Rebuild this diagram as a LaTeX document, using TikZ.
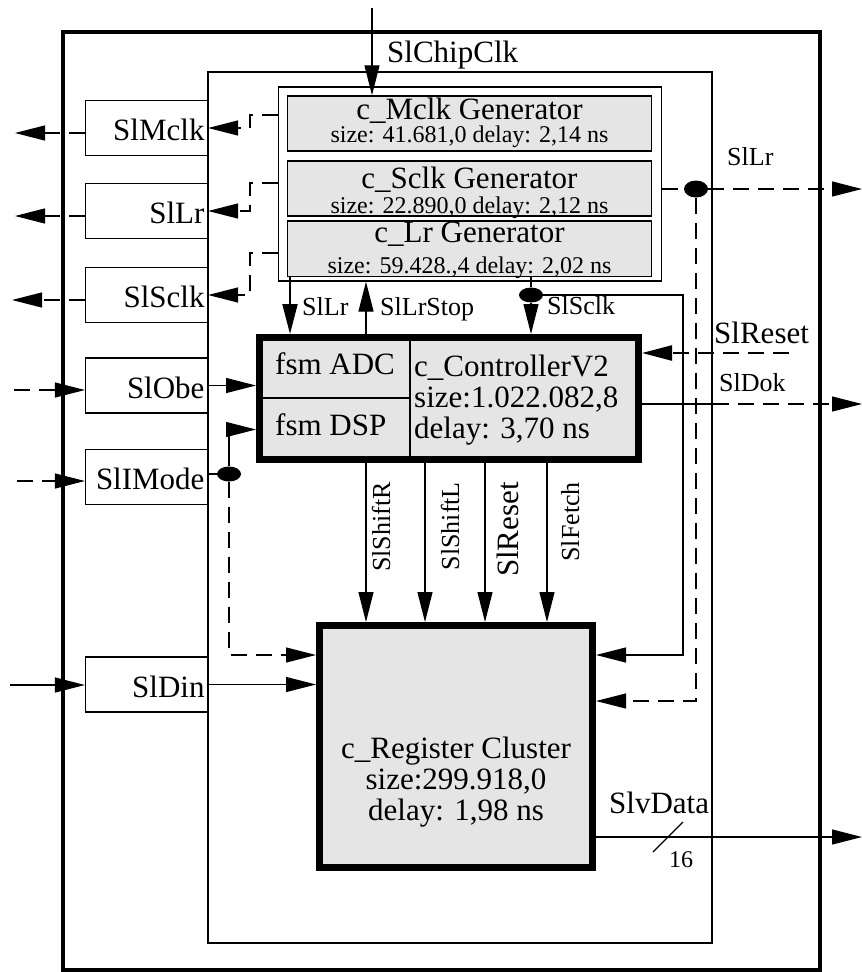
\documentclass[tikz,border=0pt]{standalone}
\usepackage{fontspec}
\setmainfont{Liberation Serif}
\usetikzlibrary{arrows.meta,shapes.geometric}

\newcommand{\fbig}{\fontsize{31}{31}\selectfont}
\newcommand{\fmid}{\fontsize{26}{28}\selectfont}
\newcommand{\fsml}{\fontsize{24}{26}\selectfont}

\begin{document}
\begin{tikzpicture}[
        x=1pt, y=-1pt,
        block/.style={draw, line width=1.2pt, inner sep=0pt},
        gen/.style={draw, fill=gray!20, line width=1.5pt, minimum width=364pt, minimum height=55pt, inner sep=0pt},
        port/.style={draw, line width=1.2pt, text width=116pt, inner xsep=3pt, minimum height=55pt, text height=25pt, text depth=0pt, align=right, font=\fbig},
        unit/.style={draw, fill=gray!20, line width=7pt, inner sep=0pt},
        joint/.style={ellipse, fill=black, inner sep=0pt, minimum width=24pt, minimum height=15pt},
        sig/.style={-{Triangle[length=30pt, width=15pt]}, line width=1.2pt},
        dsig/.style={sig, dash pattern=on 16pt off 9pt},
        wire/.style={line width=1.2pt},
        dwire/.style={wire, dash pattern=on 16pt off 9pt},
        tag/.style={font=\fmid, inner sep=0pt},
        bigtag/.style={font=\fbig, inner sep=0pt},
        smltag/.style={font=\fsml, inner sep=0pt}
    ]
        \useasboundingbox (0,0) rectangle (862,972);

        \node[block, line width=4pt, minimum width=757pt, minimum height=938pt] (chip) at (441,501) {};
        \node[block, minimum width=504pt, minimum height=871pt] (core) at (460,507.5) {};
        \node[block, minimum width=383pt, minimum height=194pt] (gens) at (470,184) {};

        \node[gen] (genM) at (469.5,123.5) {};
        \node[gen] (genS) at (469.5,188.5) {};
        \node[gen, minimum height=55.5pt] (genL) at (469.5,248.8) {};
        \node[bigtag, anchor=base] (genMname) at (469.5,119) {c\_Mclk Generator};
        \node[smltag, anchor=base] (genMsize) at (469.5,142) {size: 41.681,0 delay: 2,14 ns};
        \node[bigtag, anchor=base] (genSname) at (469.5,188) {c\_Sclk Generator};
        \node[smltag, anchor=base] (genSsize) at (469.5,213) {size: 22.890,0 delay: 2,12 ns};
        \node[bigtag, anchor=base] (genLname) at (469.5,242) {c\_Lr Generator};
        \node[smltag, anchor=base] (genLsize) at (469.5,273) {size: 59.428.,4 delay: 2,02 ns};

        \node[port] (pMclk) at (146.5,128) {SlMclk};
        \node[port] (pLr) at (146.5,211) {SlLr};
        \node[port] (pSclk) at (146.5,295) {SlSclk};
        \node[port] (pObe) at (146.5,385.5) {SlObe};
        \node[port] (pMode) at (146.5,477) {SlIMode};
        \node[port] (pDin) at (146.5,684.5) {SlDin};

        \node[unit, minimum width=379pt, minimum height=122pt] (ctrl) at (449,398.5) {};
        \coordinate (ctrlSplit) at (410,398);
        \draw[wire] (ctrlSplit |- ctrl.north) -- (ctrlSplit |- ctrl.south);
        \draw[wire] (ctrl.west |- ctrlSplit) -- (ctrlSplit);
        \node[bigtag, anchor=base west] (fsmAdc) at (275,374) {fsm ADC};
        \node[bigtag, anchor=base west] (fsmDsp) at (275,435) {fsm DSP};
        \node[bigtag, anchor=west, align=left] (ctrlTxt) at (414,400) {c\_ControllerV2\\size:1.022.082,8\\delay: 3,70 ns};

        \node[unit, minimum width=273pt, minimum height=242pt] (reg) at (456,746.5) {};
        \node[bigtag, align=center] (regTxt) at (456,782) {c\_Register Cluster\\size:299.918,0\\delay: 1,98 ns};

        \node[joint] (modeDot) at (229,474) {};
        \node[joint] (sclkDot) at (531,295) {};
        \node[joint, minimum height=17pt] (lrDot) at (696,189) {};

        \coordinate (clkIn) at (372,8);
        \coordinate (mclkTap) at (278,115);
        \coordinate (lrTap) at (278,183);
        \coordinate (sclkTap) at (278,253);
        \coordinate (jog) at (250,0);
        \coordinate (mclkOut) at (15,133);
        \coordinate (lrOut) at (15,216);
        \coordinate (sclkOut) at (12,300);
        \coordinate (obeIn) at (14,390);
        \coordinate (modeIn) at (17,481);
        \coordinate (dinIn) at (10,685);
        \coordinate (lrOutR) at (862,189);
        \coordinate (resetIn) at (789,353);
        \coordinate (dokOut) at (862,404);
        \coordinate (dataOut) at (862,837);
        \coordinate (sclkRail) at (683,500);
        \coordinate (busTick) at (668,837);

        % clock in
        \draw[sig] (clkIn) -- (clkIn |- genM.north);
        \node[bigtag, anchor=base west] (lChipClk) at (387,62) {SlChipClk};

        % generator outputs to the ports
        \draw[dsig] (mclkTap) -- (jog |- mclkTap) |- (pMclk.east);
        \draw[dsig] (lrTap) -- (jog |- lrTap) |- (pLr.east);
        \draw[dsig] (sclkTap) -- (jog |- sclkTap) |- (pSclk.east);
        \draw[dsig] (pMclk.west |- mclkOut) -- (mclkOut);
        \draw[dsig] (pLr.west |- lrOut) -- (lrOut);
        \draw[dsig] (pSclk.west |- sclkOut) -- (sclkOut);

        % inputs on the left
        \draw[dsig] (obeIn) -- (pObe.west |- obeIn);
        \draw[dsig] (modeIn) -- (pMode.west |- modeIn);
        \draw[sig] (dinIn) -- (pDin.west |- dinIn);
        \draw[sig] (pObe.east) -- (pObe.east -| ctrl.west);
        \draw[wire] (pMode.east |- modeDot) -- (modeDot);
        \draw[sig] (modeDot) |- ([yshift=-31pt]ctrl.west);
        \draw[dsig] (modeDot) |- ([yshift=-33pt]reg.north west);
        \draw[sig] (pDin.east) -- (pDin.east -| reg.west);

        % generators <-> controller
        \draw[sig, line width=2pt] ([xshift=34pt]ctrl.north west |- genL.south) -- ([xshift=34pt]ctrl.north west);
        \node[tag, anchor=base west] (lLr) at (302,315) {SlLr};
        \draw[sig] ([xshift=110pt]ctrl.north west) -- ([xshift=110pt]ctrl.north west |- gens.south);
        \node[tag, anchor=base west] (lLrStop) at (380,315) {SlLrStop};
        \draw[wire] (sclkDot |- genL.south) -- (sclkDot);
        \draw[sig] (sclkDot) -- (sclkDot |- ctrl.north);
        \node[tag, anchor=base west] (lSclk) at (547,314) {SlSclk};
        \draw[sig] (sclkDot.east) -| (sclkRail) |- ([yshift=-33pt]reg.north east);

        % right side
        \draw[dwire] (gens.east |- lrDot) -- (lrDot);
        \draw[dsig] (lrDot) -- (lrOutR);
        \draw[dsig] (lrDot) |- ([yshift=-79pt]reg.north east);
        \node[tag, anchor=base west] (lLrR) at (727,165) {SlLr};
        \draw[dsig, line width=2.4pt] (resetIn) -- (ctrl.east |- resetIn);
        \node[bigtag, anchor=base west] (lResetR) at (714,343) {SlReset};
        \draw[wire] (ctrl.east |- dokOut) -- (core.east |- dokOut);
        \draw[dsig] (core.east |- dokOut) -- (dokOut);
        \node[tag, anchor=base west] (lDok) at (719,391) {SlDok};

        % controller -> register
        \draw[sig] ([xshift=110pt]ctrl.south west) -- ([xshift=110pt]ctrl.south west |- reg.north);
        \draw[sig] ([xshift=169pt]ctrl.south west) -- ([xshift=169pt]ctrl.south west |- reg.north);
        \draw[sig] ([xshift=229pt]ctrl.south west) -- ([xshift=229pt]ctrl.south west |- reg.north);
        \draw[sig] ([xshift=291pt]ctrl.south west) -- ([xshift=291pt]ctrl.south west |- reg.north);
        \node[tag, rotate=90, anchor=base east] (lShiftR) at (390,482) {SlShiftR};
        \node[tag, rotate=90, anchor=base east] (lShiftL) at (459,482) {SlShiftL};
        \node[bigtag, rotate=90, anchor=base east] (lReset) at (518,482) {SlReset};
        \node[tag, rotate=90, anchor=base east] (lFetch) at (579,482) {SlFetch};

        % data out
        \draw[sig] (reg.east |- dataOut) -- (dataOut);
        \draw[wire] ([shift={(-15,15)}]busTick) -- ([shift={(15,-15)}]busTick);
        \node[bigtag, anchor=base west] (lData) at (609,813) {SlvData};
        \node[smltag, anchor=base west] (lWidth) at (669,867) {16};
    \end{tikzpicture}
\end{document}
